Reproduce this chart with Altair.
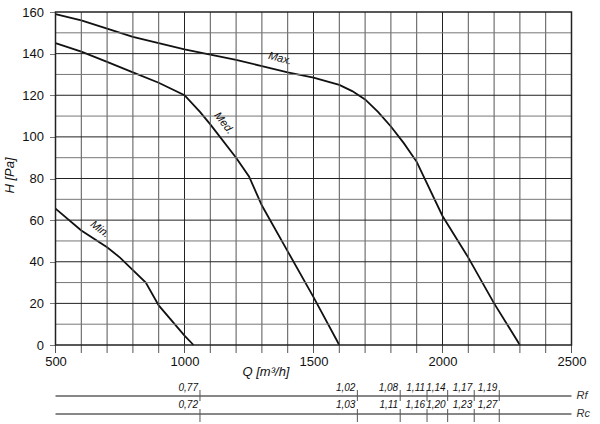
import altair as alt
import pandas as pd

# ---- curve data (Q in m3/h, H in Pa) ----
max_q = [500, 600, 700, 800, 900, 1000, 1100, 1200, 1300, 1400, 1500, 1600, 1650, 1700, 1750, 1800, 1850, 1900, 2000, 2100, 2200, 2300]
max_h = [159, 156, 152, 148, 145, 142, 139.5, 137, 134, 131, 128.5, 125, 122, 118, 112, 105, 97, 88, 62, 42, 20, 0]

med_q = [500, 600, 700, 800, 900, 1000, 1060, 1100, 1200, 1250, 1300, 1400, 1500, 1600]
med_h = [145, 141, 136, 131, 126, 120, 112, 106, 90, 81, 67, 45, 23, 0]

min_q = [500, 600, 700, 750, 800, 850, 900, 1000, 1035]
min_h = [65.5, 55, 47, 42, 36, 30, 19, 4.5, 0]

# curve labels
lab_text = ["Max.", "Med.", "Min."]
lab_q = [1370, 1152, 672]
lab_h = [137.5, 106.5, 55.5]
lab_angle = [14, 52, 38]

# Rf / Rc scale
r_q = [1060, 1670, 1836, 1940, 2020, 2123, 2220]
rf = ["0,77", "1,02", "1,08", "1,11", "1,14", "1,17", "1,19"]
rc = ["0,72", "1,03", "1,11", "1,16", "1,20", "1,23", "1,27"]

x_labels = [500, 1000, 1500, 2000, 2500]
x_ticks = list(range(500, 2600, 100))
y_labels = list(range(0, 180, 20))
y_ticks = list(range(0, 170, 10))

FONT = "Liberation Sans"

rows = []
for name, qs, hs in (("Max", max_q, max_h), ("Med", med_q, med_h), ("Min", min_q, min_h)):
    for q, h in zip(qs, hs):
        rows.append({"curve": name, "Q": q, "H": h})
curves = pd.DataFrame(rows)
labels = pd.DataFrame({"t": lab_text, "Q": lab_q, "H": lab_h, "a": lab_angle})
rtab = pd.DataFrame({"Q": r_q, "rf": rf, "rc": rc})
xg = pd.DataFrame({"Q": x_ticks[1:-1]})
xt = pd.DataFrame({"Q": x_ticks})
yg = pd.DataFrame({"H": y_ticks[1:-1]})

xs = alt.Scale(domain=[500, 2500], nice=False, zero=False)
ys = alt.Scale(domain=[0, 160], nice=False, zero=True)

xaxis = alt.Axis(values=x_labels, grid=False, ticks=False, domain=False,
                 labelOverlap=False, labelFlush=False,
                 labelFont=FONT, labelFontSize=13, labelColor="#111", labelPadding=10,
                 format="d", title="Q [m³/h]", titleFont=FONT, titleFontSize=13,
                 titleFontStyle="italic", titleFontWeight="normal", titleColor="#111",
                 titleX=210, titleY=26, titleAlign="center", titleBaseline="middle")
yaxis = alt.Axis(values=y_labels, grid=False, tickSize=6, tickColor="#777",
                 domain=False, labelOverlap=False, labelFlush=False,
                 labelFont=FONT, labelFontSize=13, labelColor="#111",
                 labelPadding=6, title="H [Pa]", titleFont=FONT, titleFontSize=13,
                 titleFontStyle="italic", titleFontWeight="normal", titleColor="#111",
                 titleAngle=270, titleX=-46.5, titleY=163, titleAlign="center",
                 titleBaseline="middle")

X = lambda: alt.X("Q:Q", scale=xs)
Y = lambda: alt.Y("H:Q", scale=ys)

vgrid = alt.Chart(xg).mark_rule(strokeWidth=1).encode(
    x=X(),
    color=alt.condition("datum.Q % 500 == 0", alt.value("#222"), alt.value("#555")),
)
xtick = alt.Chart(xt).mark_rule(strokeWidth=1, color="#555").encode(
    x=X(), y=alt.value(333), y2=alt.value(341)
)
hgrid = alt.Chart(yg).mark_rule(strokeWidth=1).encode(
    y=Y(),
    color=alt.condition("datum.H % 20 == 0", alt.value("#222"), alt.value("#777")),
)
frame = alt.Chart(pd.DataFrame({"a": [0]})).mark_rect(fill=None, stroke="#222", strokeWidth=1.5).encode(
    x=alt.value(0), x2=alt.value(516), y=alt.value(0), y2=alt.value(333)
)

lines = alt.Chart(curves).mark_line(color="#111", strokeWidth=1.8).encode(
    x=alt.X("Q:Q", scale=xs, axis=xaxis), y=alt.Y("H:Q", scale=ys, axis=yaxis), detail="curve:N"
)

lab = alt.Chart(labels).mark_text(font=FONT, fontSize=11, fontStyle="italic", color="#111").encode(
    x=X(), y=Y(), text="t:N", angle=alt.Angle("a:Q", scale=None)
)

# Rf / Rc lines
rf_line = alt.Chart(pd.DataFrame({"a": [0]})).mark_rule(color="#111", strokeWidth=1).encode(
    x=alt.datum(500, scale=xs), x2=alt.datum(2500), y=alt.value(384)
)
rc_line = alt.Chart(pd.DataFrame({"a": [0]})).mark_rule(color="#111", strokeWidth=1).encode(
    x=alt.datum(500, scale=xs), x2=alt.datum(2500), y=alt.value(402)
)
rf_tick = alt.Chart(rtab).mark_rule(color="#555", strokeWidth=1).encode(
    x=X(), y=alt.value(378), y2=alt.value(389)
)
rc_tick = alt.Chart(rtab).mark_rule(color="#555", strokeWidth=1).encode(
    x=X(), y=alt.value(397), y2=alt.value(410)
)
rf_txt = alt.Chart(rtab).mark_text(font=FONT, fontSize=10, fontStyle="italic", color="#111",
                                   align="right", baseline="alphabetic", dx=-2).encode(
    x=X(), y=alt.value(379), text="rf:N"
)
rc_txt = alt.Chart(rtab).mark_text(font=FONT, fontSize=10, fontStyle="italic", color="#111",
                                   align="right", baseline="alphabetic", dx=-2).encode(
    x=X(), y=alt.value(396), text="rc:N"
)
rname = alt.Chart(pd.DataFrame({"n": ["Rf", "Rc"], "yy": [384, 402]})).mark_text(
    font=FONT, fontSize=11, fontStyle="italic", color="#333", align="left", baseline="middle"
).encode(x=alt.value(521), y=alt.Y("yy:Q", scale=None), text="n:N")

chart = alt.layer(
    lines, vgrid, hgrid, xtick, lab, frame,
    rf_line, rc_line, rf_tick, rc_tick, rf_txt, rc_txt, rname,
).properties(
    width=516, height=333,
    padding={"left": 55.5, "top": 12, "right": 28.5, "bottom": 79},
    autosize=alt.AutoSizeParams(type="none"),
    background="white",
).configure_view(stroke=None)

chart.save("out.html", embed_options={"renderer": "svg", "actions": False})
